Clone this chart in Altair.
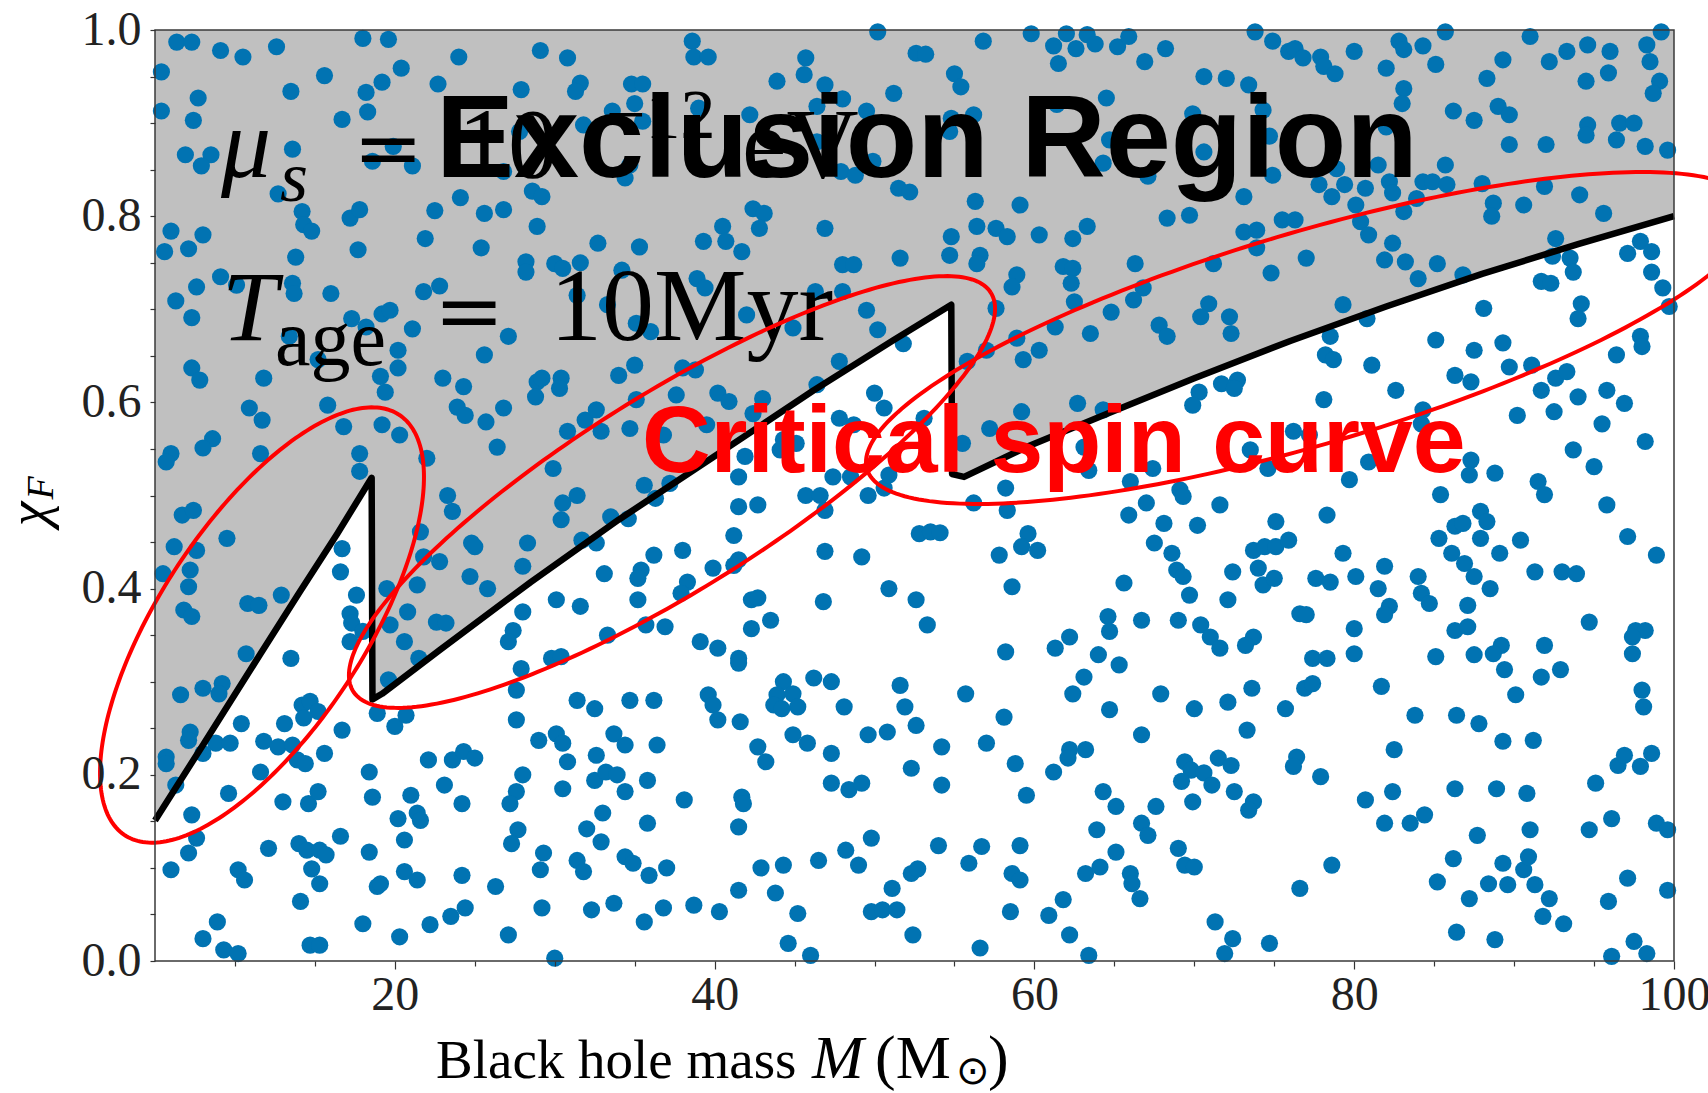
import altair as alt
import numpy as np
import pandas as pd

# ---------------- data ----------------
# scatter points (black hole mass M, final spin chi_F), upper band
points_upper = [
    (6.36,0.987),(7.3,0.987),(9.1,0.978),(10.5,0.971),(12.6,0.982),(18.0,0.991),(19.6,0.990),(5.4,0.955),
    (15.6,0.951),(20.4,0.959),(24.0,0.971),(13.5,0.934),(7.7,0.927),(18.2,0.933),(19.2,0.944),(22.7,0.942),
    (27.9,0.936),(5.4,0.913),(7.4,0.903),(16.7,0.904),(18.3,0.912),(27.8,0.891),(6.9,0.866),(8.5,0.866),
    (7.9,0.854),(13.6,0.872),(18.6,0.859),(19.9,0.875),(21.1,0.854),(26.8,0.848),(12.7,0.824),(14.2,0.805),
    (14.3,0.791),(14.8,0.784),(17.2,0.798),(17.8,0.807),(24.1,0.820),(22.5,0.806),(25.6,0.803),(26.8,0.807),
    (28.6,0.827),(28.9,0.789),(6.0,0.784),(8.0,0.780),(5.6,0.762),(7.1,0.765),(17.7,0.764),(21.9,0.776),
    (25.4,0.766),(13.8,0.756),(28.2,0.751),(28.2,0.740),(9.1,0.735),(10.1,0.726),(7.6,0.724),(13.6,0.728),
    (13.7,0.717),(16.0,0.717),(21.8,0.719),(22.8,0.725),(6.3,0.709),(7.3,0.691),(17.3,0.690),(19.2,0.695),
    (19.7,0.699),(18.2,0.681),(21.1,0.679),(27.1,0.671),(13.4,0.671),
    (29.1,0.978),(30.8,0.970),(38.6,0.988),(38.7,0.971),(39.6,0.971),(50.2,0.998),(31.6,0.943),(31.3,0.934),
    (34.8,0.942),(35.5,0.942),(35.0,0.921),(43.9,0.945),(45.7,0.970),(45.6,0.952),(46.9,0.941),(48.0,0.926),
    (51.2,0.932),(52.6,0.975),(33.6,0.913),(31.8,0.898),(35.5,0.902),(39.0,0.916),(42.2,0.909),(46.4,0.918),
    (49.5,0.913),(46.4,0.880),(34.7,0.855),(34.4,0.841),(47.9,0.848),(48.8,0.844),(49.9,0.859),(51.5,0.830),
    (52.2,0.826),(42.4,0.808),(43.1,0.803),(42.8,0.787),(40.5,0.789),(40.7,0.773),(41.7,0.762),(39.3,0.773),
    (46.9,0.787),(32.7,0.771),(35.3,0.767),(30.0,0.749),(30.5,0.744),(31.6,0.750),(34.2,0.742),(38.9,0.733),
    (39.4,0.723),(48.0,0.748),(48.7,0.748),(51.6,0.755),(31.4,0.715),(33.3,0.705),(35.1,0.685),(36.0,0.676),
    (42.0,0.694),(46.3,0.719),(48.0,0.719),(49.5,0.699),(50.2,0.678),(44.9,0.680),(29.2,0.821),
    (53.2,0.974),(56.8,0.988),(59.8,0.996),(61.2,0.983),(62.0,0.996),(62.6,0.980),(63.3,0.995),(63.8,0.985),
    (65.2,0.982),(65.9,0.993),(61.5,0.964),(66.9,0.966),(68.2,0.980),(73.8,0.998),(74.9,0.988),(75.9,0.977),
    (55.0,0.953),(55.4,0.939),(70.6,0.950),(72.0,0.948),(73.4,0.941),(64.5,0.927),(61.4,0.920),(56.2,0.909),
    (54.8,0.905),(54.7,0.891),(69.9,0.910),(74.3,0.914),(64.7,0.882),(70.6,0.869),(74.7,0.886),(64.3,0.857),
    (67.1,0.843),(74.9,0.844),(56.3,0.816),(59.1,0.812),(73.1,0.821),(56.4,0.789),(57.6,0.787),(58.3,0.778),
    (60.3,0.780),(62.4,0.776),(63.3,0.789),(54.8,0.778),(54.7,0.758),(56.6,0.758),(56.4,0.749),(68.3,0.798),
    (69.7,0.801),(73.1,0.783),(73.9,0.785),(73.9,0.766),(75.5,0.796),(61.8,0.746),(62.4,0.744),(62.3,0.728),
    (66.3,0.749),(71.2,0.749),(74.8,0.739),(58.9,0.737),(58.6,0.724),(62.5,0.708),(64.8,0.697),(66.8,0.723),
    (66.2,0.710),(70.9,0.706),(70.4,0.692),(72.2,0.692),(72.3,0.674),(67.8,0.683),(68.3,0.671),(63.5,0.674),
    (61.3,0.681),(58.9,0.669),(57.6,0.701),
    (76.3,0.980),(76.8,0.970),(77.9,0.971),(78.1,0.961),(78.8,0.953),(80.0,0.977),(82.0,0.959),(82.8,0.988),
    (83.1,0.979),(84.3,0.983),(85.7,0.998),(85.1,0.963),(83.1,0.937),(83.0,0.921),(88.3,0.948),(89.3,0.968),
    (91.0,0.993),(92.2,0.966),(93.3,0.977),(94.6,0.984),(96.0,0.977),(95.9,0.954),(94.5,0.945),(98.3,0.984),
    (98.5,0.966),(99.1,0.945),(98.7,0.932),(99.2,0.998),(86.2,0.913),(87.5,0.903),(89.0,0.918),(89.7,0.909),
    (89.7,0.877),(92.0,0.877),(94.6,0.898),(94.5,0.887),(96.6,0.900),(97.5,0.900),(96.4,0.882),(98.2,0.875),
    (99.6,0.871),(82.0,0.896),(81.5,0.855),(78.9,0.851),(77.8,0.834),(78.6,0.821),(79.4,0.834),(80.7,0.830),
    (80.1,0.812),(82.2,0.837),(82.4,0.825),(83.1,0.805),(84.3,0.837),(84.9,0.837),(85.7,0.855),(85.8,0.834),
    (83.9,0.819),(88.0,0.835),(88.7,0.814),(88.6,0.800),(90.6,0.812),(91.9,0.832),(94.1,0.823),(95.6,0.803),
    (76.3,0.796),(80.4,0.794),(80.9,0.780),(77.0,0.755),(81.9,0.753),(82.4,0.771),(83.2,0.751),(84.0,0.733),
    (85.2,0.749),(86.8,0.737),(79.3,0.705),(80.8,0.690),(78.5,0.671),(85.1,0.667),(92.6,0.776),(92.4,0.757),
    (93.5,0.755),(93.7,0.740),(91.7,0.730),(92.3,0.728),(97.1,0.760),(97.9,0.773),(98.6,0.762),(98.6,0.740),
    (99.3,0.723),(99.7,0.703),(94.2,0.706),(94.0,0.690),(88.1,0.701),(97.9,0.671),(89.3,0.664),
]

# middle band
points_middle = [
    (7.3,0.637),(7.8,0.624),(11.8,0.626),(15.2,0.646),(19.1,0.628),(19.4,0.611),(20.2,0.637),(20.2,0.656),
    (25.6,0.651),(23.0,0.626),(24.3,0.617),(28.9,0.622),(28.8,0.606),(10.9,0.594),(11.7,0.581),(15.8,0.597),
    (16.8,0.574),(19.2,0.576),(20.3,0.565),(23.9,0.595),(24.4,0.586),(25.7,0.579),(26.8,0.594),(26.4,0.552),
    (8.6,0.561),(8.0,0.551),(6.0,0.545),(5.7,0.536),(11.6,0.545),(17.8,0.545),(17.8,0.526),(22.0,0.540),
    (23.3,0.500),(23.6,0.483),(6.7,0.479),(7.4,0.484),(9.5,0.454),(6.2,0.445),(7.6,0.441),(7.2,0.420),
    (5.5,0.416),(7.1,0.402),(6.8,0.377),(7.3,0.370),(10.8,0.384),(11.5,0.382),(12.9,0.393),(16.7,0.443),
    (16.6,0.418),(17.6,0.393),(17.2,0.373),(17.3,0.363),(17.2,0.343),(18.0,0.354),(21.6,0.461),(21.8,0.434),
    (22.8,0.429),(21.4,0.404),(20.8,0.375),(19.7,0.361),(19.5,0.400),(20.6,0.343),(22.6,0.364),(23.2,0.363),
    (24.8,0.449),(25.0,0.445),(24.7,0.413),(25.8,0.400),(28.3,0.449),(28.0,0.424),(28.0,0.375),(27.4,0.355),
    (27.1,0.343),(10.7,0.330),(13.5,0.325),(21.5,0.325),
    (29.2,0.626),(30.4,0.626),(30.3,0.615),(34.0,0.629),(35.0,0.640),(38.0,0.637),(38.8,0.635),(35.1,0.603),
    (37.6,0.608),(40.2,0.610),(40.9,0.601),(43.0,0.604),(46.4,0.619),(47.8,0.644),(51.8,0.663),(50.0,0.610),
    (50.6,0.594),(31.9,0.581),(32.6,0.592),(32.9,0.569),(30.8,0.569),(34.7,0.572),(36.8,0.565),(39.5,0.576),
    (42.4,0.588),(44.3,0.560),(44.1,0.549),(45.1,0.556),(47.8,0.583),(48.7,0.576),(41.9,0.542),(41.5,0.520),
    (29.9,0.529),(31.4,0.500),(30.5,0.492),(30.4,0.474),(35.6,0.511),(36.3,0.497),(37.2,0.513),(33.5,0.477),
    (34.6,0.475),(31.7,0.452),(32.6,0.449),(41.5,0.488),(42.7,0.490),(45.7,0.500),(46.6,0.500),(46.9,0.484),
    (47.4,0.520),(48.5,0.520),(49.6,0.500),(50.6,0.508),(50.9,0.522),(41.2,0.457),(36.2,0.436),(38.0,0.441),
    (33.1,0.416),(35.4,0.420),(35.2,0.411),(39.9,0.422),(41.5,0.431),(41.2,0.425),(46.9,0.440),(49.2,0.434),
    (38.3,0.407),(37.9,0.395),(30.1,0.388),(31.6,0.381),(35.2,0.388),(42.3,0.388),(42.7,0.390),(46.8,0.386),
    (50.9,0.400),(43.5,0.366),(42.3,0.357),(35.7,0.361),(36.9,0.359),(33.3,0.350),(39.1,0.343),(40.2,0.336),
    (29.8,0.325),(30.4,0.327),(41.5,0.325),
    (55.8,0.644),(57.0,0.656),(59.3,0.646),(60.3,0.656),(70.3,0.611),(69.9,0.597),(71.7,0.620),(72.7,0.624),
    (72.5,0.615),(62.7,0.599),(64.3,0.592),(59.2,0.590),(57.2,0.572),(53.1,0.583),(55.5,0.556),(63.1,0.552),
    (63.4,0.527),(67.4,0.529),(73.5,0.549),(74.6,0.529),(76.2,0.569),(66.0,0.515),(69.1,0.506),(69.3,0.499),
    (67.0,0.492),(65.9,0.479),(71.6,0.490),(68.1,0.470),(70.2,0.468),(75.1,0.472),(58.2,0.508),(58.3,0.484),
    (56.2,0.492),(52.8,0.459),(53.5,0.461),(54.1,0.460),(59.6,0.459),(59.2,0.445),(60.2,0.441),(57.8,0.436),
    (67.5,0.449),(68.6,0.438),(68.9,0.420),(69.3,0.413),(69.7,0.393),(73.7,0.441),(74.4,0.445),(75.1,0.445),
    (75.9,0.452),(74.0,0.422),(74.3,0.404),(75.0,0.411),(72.4,0.418),(72.1,0.388),(65.6,0.406),(58.6,0.402),
    (52.6,0.388),(53.3,0.361),(64.6,0.370),(64.7,0.354),(66.7,0.366),(69.0,0.366),(70.4,0.361),(71.0,0.348),
    (71.6,0.336),(73.7,0.348),(73.2,0.339),(62.2,0.348),(61.3,0.336),(58.2,0.332),(64.0,0.329),(76.6,0.373),
    (78.2,0.651),(78.7,0.646),(81.1,0.640),(87.5,0.656),(89.7,0.638),(91.1,0.640),(98.0,0.660),(96.4,0.651),
    (86.3,0.629),(87.3,0.622),(82.6,0.613),(78.1,0.603),(92.6,0.626),(93.3,0.633),(91.7,0.613),(94.0,0.606),
    (95.8,0.613),(96.9,0.599),(90.2,0.586),(92.5,0.590),(95.5,0.577),(98.2,0.558),(84.3,0.592),(84.2,0.577),
    (77.2,0.565),(80.9,0.536),(79.7,0.517),(87.3,0.538),(87.2,0.522),(88.8,0.524),(93.7,0.549),(95.0,0.531),
    (91.5,0.515),(91.9,0.501),(85.4,0.501),(95.8,0.490),(78.3,0.479),(87.9,0.483),(88.3,0.472),(86.3,0.467),
    (86.8,0.470),(87.9,0.454),(85.3,0.454),(90.4,0.452),(97.1,0.456),(98.9,0.436),(79.3,0.438),(86.1,0.438),
    (89.1,0.438),(86.9,0.427),(87.5,0.413),(88.5,0.400),(91.3,0.418),(93.0,0.418),(93.9,0.416),(77.6,0.411),
    (78.5,0.407),(80.1,0.413),(81.9,0.424),(81.5,0.400),(84.0,0.413),(84.2,0.395),(84.7,0.384),(82.2,0.381),
    (81.9,0.372),(87.1,0.382),(77.0,0.372),(80.0,0.357),(86.3,0.355),(87.1,0.359),(94.7,0.364),(97.6,0.355),
    (98.2,0.355),(97.4,0.348),(97.4,0.330),(91.9,0.339),(89.2,0.339),(88.7,0.330),(87.5,0.329),(85.1,0.327),
]

# lower band
points_lower = [
    (6.6,0.286),(8.0,0.293),(9.2,0.298),(9.0,0.287),(7.2,0.246),(7.1,0.237),(5.7,0.219),(5.7,0.212),
    (6.3,0.189),(8.8,0.234),(8.0,0.223),(10.4,0.255),(9.7,0.234),(11.8,0.236),(12.7,0.230),(13.6,0.232),
    (13.9,0.216),(14.4,0.212),(13.1,0.255),(14.2,0.275),(14.7,0.279),(15.2,0.268),(14.3,0.261),(15.6,0.223),
    (16.7,0.248),(11.6,0.203),(9.6,0.180),(13.0,0.171),(14.6,0.169),(15.2,0.182),(7.3,0.157),(7.6,0.132),
    (7.1,0.116),(6.0,0.098),(12.1,0.121),(14.0,0.126),(14.5,0.119),(15.3,0.119),(15.7,0.114),(14.8,0.099),
    (15.3,0.083),(16.6,0.134),(10.2,0.098),(10.6,0.087),(14.1,0.064),(8.9,0.042),(8.0,0.024),(9.3,0.012),
    (10.2,0.008),(14.7,0.017),(15.3,0.017),(18.0,0.040),(20.3,0.026),(22.2,0.039),(23.5,0.048),(24.4,0.057),
    (27.1,0.028),(26.3,0.080),(24.2,0.092),(18.9,0.080),(19.1,0.083),(18.4,0.117),(20.6,0.096),(21.4,0.087),
    (20.6,0.130),(20.2,0.153),(21.0,0.178),(21.4,0.159),(21.6,0.151),(18.6,0.176),(18.4,0.203),(23.1,0.189),
    (24.2,0.169),(22.1,0.216),(23.6,0.216),(24.3,0.225),(25.0,0.218),(18.9,0.266),(20.0,0.252),(20.7,0.264),
    (19.6,0.302),(27.9,0.314),(27.6,0.291),(27.6,0.259),(28.0,0.200),(27.6,0.182),(27.2,0.169),(27.7,0.141),
    (27.3,0.126),
    (41.5,0.320),(31.4,0.280),(32.5,0.271),(34.7,0.280),(36.2,0.280),(39.6,0.286),(39.9,0.275),(40.2,0.259),
    (41.6,0.257),(44.3,0.300),(43.9,0.286),(43.7,0.275),(44.9,0.287),(45.2,0.273),(44.2,0.271),(46.2,0.304),
    (47.3,0.300),(48.1,0.273),(51.6,0.296),(51.9,0.273),(52.6,0.253),(29.0,0.237),(30.1,0.244),(30.5,0.234),
    (30.8,0.214),(32.6,0.221),(33.7,0.244),(34.4,0.232),(36.4,0.232),(32.5,0.194),(33.2,0.203),(33.9,0.200),
    (34.4,0.182),(35.8,0.194),(30.5,0.185),(38.1,0.173),(41.7,0.176),(41.8,0.169),(41.5,0.144),(42.7,0.230),
    (43.2,0.214),(44.9,0.243),(45.8,0.234),(47.3,0.223),(49.6,0.243),(50.8,0.246),(52.3,0.207),(47.3,0.191),
    (48.4,0.184),(49.2,0.191),(33.0,0.159),(32.0,0.142),(32.9,0.128),(35.8,0.148),(29.3,0.116),(29.1,0.098),
    (31.4,0.108),(31.8,0.096),(34.4,0.112),(34.9,0.105),(35.9,0.092),(37.0,0.100),(29.2,0.057),(32.3,0.055),
    (33.7,0.062),(35.6,0.042),(36.8,0.057),(38.7,0.060),(40.3,0.053),(41.5,0.076),(42.9,0.100),(44.3,0.103),
    (43.8,0.073),(45.2,0.051),(44.6,0.019),(46.0,0.006),(46.5,0.108),(48.2,0.119),(49.0,0.103),(49.8,0.132),
    (52.3,0.094),(52.7,0.099),(51.1,0.078),(49.8,0.053),(50.5,0.055),(51.4,0.055),(52.4,0.028),(30.0,0.003),
    (65.3,0.318),(63.1,0.305),(62.4,0.287),(64.7,0.270),(55.7,0.287),(58.1,0.262),(67.9,0.287),(70.0,0.271),
    (72.1,0.278),(73.6,0.293),(75.7,0.271),(73.3,0.248),(66.7,0.243),(54.2,0.230),(57.0,0.234),(58.8,0.212),
    (62.2,0.227),(62.1,0.218),(63.2,0.227),(61.2,0.203),(54.2,0.189),(59.5,0.178),(64.3,0.182),(65.1,0.166),
    (67.6,0.166),(66.7,0.148),(67.1,0.135),(63.9,0.141),(69.4,0.214),(69.8,0.205),(69.2,0.193),(70.6,0.202),
    (71.1,0.189),(71.5,0.218),(72.3,0.210),(69.9,0.171),(72.5,0.182),(73.7,0.171),(73.4,0.162),(76.4,0.219),
    (76.2,0.209),(54.0,0.124),(56.7,0.123),(55.9,0.105),(59.1,0.124),(58.6,0.094),(59.1,0.087),(63.2,0.094),
    (64.1,0.101),(65.1,0.117),(66.0,0.094),(66.1,0.083),(66.6,0.067),(69.0,0.121),(69.4,0.103),(70.0,0.101),
    (76.6,0.078),(58.5,0.053),(60.9,0.049),(61.8,0.066),(62.2,0.028),(63.4,0.006),(56.6,0.014),(71.3,0.042),
    (72.4,0.024),(71.9,0.008),(74.7,0.019),
    (77.4,0.325),(78.3,0.325),(80.0,0.330),(76.9,0.293),(77.4,0.298),(81.7,0.295),(89.4,0.313),(91.7,0.305),
    (92.9,0.313),(90.1,0.286),(98.0,0.291),(98.1,0.273),(83.8,0.264),(86.4,0.264),(87.8,0.255),(89.3,0.236),
    (91.2,0.237),(82.5,0.227),(77.9,0.198),(82.4,0.182),(80.7,0.173),(81.9,0.148),(83.5,0.148),(84.4,0.157),
    (86.3,0.185),(88.9,0.185),(90.8,0.180),(87.7,0.135),(91.0,0.141),(95.1,0.191),(96.5,0.210),(96.9,0.221),
    (97.9,0.209),(98.6,0.223),(94.7,0.141),(96.1,0.153),(98.9,0.148),(99.6,0.141),(78.6,0.103),(86.2,0.110),
    (85.2,0.085),(88.4,0.083),(89.3,0.105),(89.6,0.082),(90.6,0.098),(90.9,0.112),(91.3,0.082),(92.2,0.067),
    (91.8,0.048),(93.1,0.040),(87.2,0.067),(86.4,0.031),(88.8,0.023),(97.1,0.089),(95.9,0.064),(99.6,0.076),
    (97.5,0.021),(98.3,0.008),(96.1,0.005),
]

# critical spin curve (sawtooth)
curve_mass = [5.0, 8.0, 11.6, 14.0, 16.4, 18.55,
              18.6, 19.2, 22.8, 28.5, 34.0, 39.9, 46.2, 51.2, 54.8,
              54.85, 55.6, 59.5, 64.7, 70.0, 76.0, 82.0, 88.0, 94.0, 100.0]
curve_spin = [0.151, 0.232, 0.330, 0.395, 0.459, 0.519,
              0.281, 0.287, 0.334, 0.407, 0.474, 0.541, 0.613, 0.667, 0.705,
              0.523, 0.520, 0.552, 0.589, 0.626, 0.666, 0.703, 0.738, 0.770, 0.800]
top_of_region = 1.0

x_ticks = [10, 15, 20, 25, 30, 35, 40, 45, 50, 55, 60, 65, 70, 75, 80, 85, 90, 95, 100]
y_ticks = [0.0, 0.05, 0.1, 0.15, 0.2, 0.25, 0.3, 0.35, 0.4, 0.45, 0.5, 0.55, 0.6, 0.65, 0.7,
           0.75, 0.8, 0.85, 0.9, 0.95, 1.0]

# ---------------- layout (page pixels) ----------------
PL, PT, PW, PH = 155, 30, 1519, 931
XMIN, XMAX = 5, 100
SERIF = "Liberation Serif"
SANS = "Liberation Sans"
MATH = "DejaVu Serif"

xscale = alt.Scale(domain=[XMIN, XMAX], nice=False, zero=False)
yscale = alt.Scale(domain=[0, 1], nice=False, zero=False)

xaxis = alt.Axis(values=x_ticks, format="d", title=None, grid=False, domain=False,
                 labelExpr="datum.value % 20 === 0 ? datum.label : ''",
                 tickColor="#333333", tickWidth=1.2,
                 tickSize={"condition": {"test": "datum.value % 20 === 0", "value": 8}, "value": 5},
                 labelFont=SERIF, labelFontSize=48, labelColor="#222222", labelPadding=2,
                 labelFlush=False, labelOverlap=False, zindex=1)
yaxis = alt.Axis(values=y_ticks, format=".1f", title=None, grid=False, domain=False,
                 labelExpr="round(datum.value * 100) % 20 === 0 ? datum.label : ''",
                 tickColor="#333333", tickWidth=1.2, tickSize=5,
                 labelFont=SERIF, labelFontSize=48, labelColor="#222222", labelPadding=9,
                 labelFlush=False, labelOverlap=False, zindex=1)


def X():
    return alt.X("M:Q", scale=xscale, axis=xaxis)


def Y():
    return alt.Y("chi:Q", scale=yscale, axis=yaxis)


pts = pd.DataFrame(points_upper + points_middle + points_lower, columns=["M", "chi"])
curve = pd.DataFrame({"M": curve_mass, "chi": curve_spin,
                      "top": [top_of_region] * len(curve_mass), "i": range(len(curve_mass))})

region = alt.Chart(curve).mark_area(color="#c0c0c0", fill="#c0c0c0", opacity=1).encode(
    x=X(), y=Y(), y2="top:Q")
scatter = alt.Chart(pts).mark_circle(size=295, color="#0173b2", opacity=1).encode(x=X(), y=Y())
line = alt.Chart(curve).mark_line(color="black", strokeWidth=6.5, strokeJoin="round").encode(
    x=X(), y=Y(), order=alt.Order("i:Q"))


# red hand-drawn ellipses (page-pixel centre, semi-axes, tilt)
def ellipse(cx, cy, a, b, tilt, n=260):
    t = np.linspace(0, 2 * np.pi, n)
    th = np.radians(tilt)
    px = cx + a * np.cos(t) * np.cos(th) - b * np.sin(t) * np.sin(th)
    py = cy - (a * np.cos(t) * np.sin(th) + b * np.sin(t) * np.cos(th))
    m = XMIN + (px - PL) / PW * (XMAX - XMIN)
    c = (PT + PH - py) / PH
    return pd.DataFrame({"M": m, "chi": c, "i": np.arange(n)})


ellipses = [(262, 625, 251, 103, 56.9), (672, 492, 376, 98, 32.0), (1310, 338, 462, 106, 16.5)]
ell_layers = [
    alt.Chart(ellipse(*e)).mark_line(color="#ff0000", strokeWidth=4, clip=False).encode(
        x=X(), y=Y(), order=alt.Order("i:Q"))
    for e in ellipses
]


def txt(text, x, y, size, font=SERIF, style="normal", weight="normal", color="black",
        align="left", baseline="alphabetic", angle=0):
    return alt.Chart(pd.DataFrame({"t": [text]})).mark_text(
        fontSize=size, font=font, fontStyle=style, fontWeight=weight, color=color,
        align=align, baseline=baseline, angle=angle).encode(
        text="t:N", x=alt.value(x - PL), y=alt.value(y - PT))


texts_back = [
    txt("μ", 221, 177, 100, style="italic"),
    txt("s", 280, 201, 72, style="italic"),
    txt("=", 353, 177, 84, font=MATH),
    txt("10", 458, 177, 100),
    txt("−12", 606, 138, 70),
    txt("eV", 742, 177, 100),
    txt("T", 222, 340, 100, style="italic"),
    txt("age", 275, 365, 80),
    txt("=", 434, 340, 84, font=MATH),
    txt("10Myr", 550, 340, 104),
    txt("Exclusion Region", 436, 177, 117, font=SANS, weight="bold"),
    txt("Critical spin curve", 642, 472, 95, font=SANS, weight="bold", color="#ff0000"),
]
texts_axes = [
    txt("Black hole mass", 436, 1078, 55),
    txt("M", 812, 1078, 62, style="italic"),
    txt("(M", 875, 1078, 62),
    txt("⊙", 956, 1084, 40),
    txt(")", 988, 1078, 62),
    txt("χ", 30, 514, 56, style="italic", align="center", baseline="middle", angle=270),
    txt("F", 42, 488, 38, style="italic", align="center", baseline="middle", angle=270),
]

frame = alt.Chart(pd.DataFrame({"k": [0]})).mark_rect(
    fillOpacity=0, stroke="#3a3a3a", strokeWidth=1.5).encode(
    x=alt.value(0), x2=alt.value(PW), y=alt.value(0), y2=alt.value(PH))

chart = alt.layer(region, scatter, line, *texts_back, *ell_layers, *texts_axes, frame).properties(
    width=PW, height=PH,
    padding={"left": PL, "top": PT, "right": 1708 - PL - PW, "bottom": 1093 - PT - PH},
    autosize=alt.AutoSizeParams(type="none"),
    background="white",
).configure_view(strokeWidth=0)

chart.save("out.html", embed_options={"renderer": "svg", "actions": False})
